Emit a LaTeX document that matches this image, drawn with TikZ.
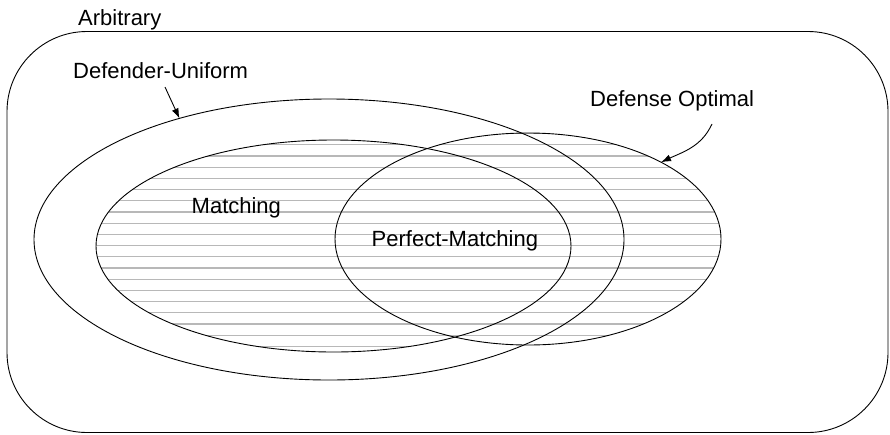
\documentclass[tikz,border=0pt]{standalone}
\usepackage{fontspec}
\setmainfont{Liberation Sans}
\usetikzlibrary{shapes.geometric,arrows.meta}
\begin{document}
\begin{tikzpicture}[x=1pt,y=-1pt,
  outline/.style={draw=black,line width=0.9pt},
  setshape/.style={ellipse,outline,inner sep=0pt,outer sep=0pt},
  lbl/.style={font=\fontsize{22}{26}\selectfont,inner sep=0pt,anchor=base west},
  hatch/.style={draw=black!28,line width=1.3pt},
  pointer/.style={draw=black,line width=0.9pt,-{Latex[length=10pt,width=7pt]}}]
\useasboundingbox (0,0) rectangle (890,434);
% hatching of Matching and Defense Optimal
\begin{scope}
  \clip (333.5,246) ellipse [x radius=237.5pt, y radius=106pt];
  \foreach \k in {-10,...,14} {\draw[hatch] (90,212+11.2*\k) -- (580,212+11.2*\k);}
\end{scope}
\begin{scope}
  \clip (528,239) ellipse [x radius=193pt, y radius=106pt];
  \foreach \k in {-10,...,14} {\draw[hatch] (330,212+11.2*\k) -- (730,212+11.2*\k);}
\end{scope}
% outer rounded box
\node[draw=black,line width=0.9pt,rounded corners=80pt,inner sep=0pt,outer sep=0pt,
  minimum width=881pt,minimum height=401pt] (arb) at (447.5,232) {};
% sets
\node[setshape,minimum width=590pt,minimum height=281pt] (du) at (329,239.5) {};
\node[setshape,minimum width=475pt,minimum height=212pt] (mat) at (333.5,246) {};
\node[setshape,minimum width=386pt,minimum height=212pt] (dopt) at (528,239) {};
% labels
\node[lbl] (arblab) at (78,25) {Arbitrary};
\node[lbl] (dulab) at (73,78) {Defender-Uniform};
\node[lbl] (doplab) at (590,106) {Defense Optimal};
\node[lbl] (matlab) at (191.5,213) {Matching};
\node[lbl] (pmlab) at (371.5,246) {Perfect-Matching};
% pointers
\coordinate (dustart) at (165,87);
\coordinate (dostart) at (712,124);
\draw[pointer] (dustart) -- (du.141.4);
\draw[pointer] (dostart) to[out=245,in=25] (dopt.30.3);
\end{tikzpicture}
\end{document}
